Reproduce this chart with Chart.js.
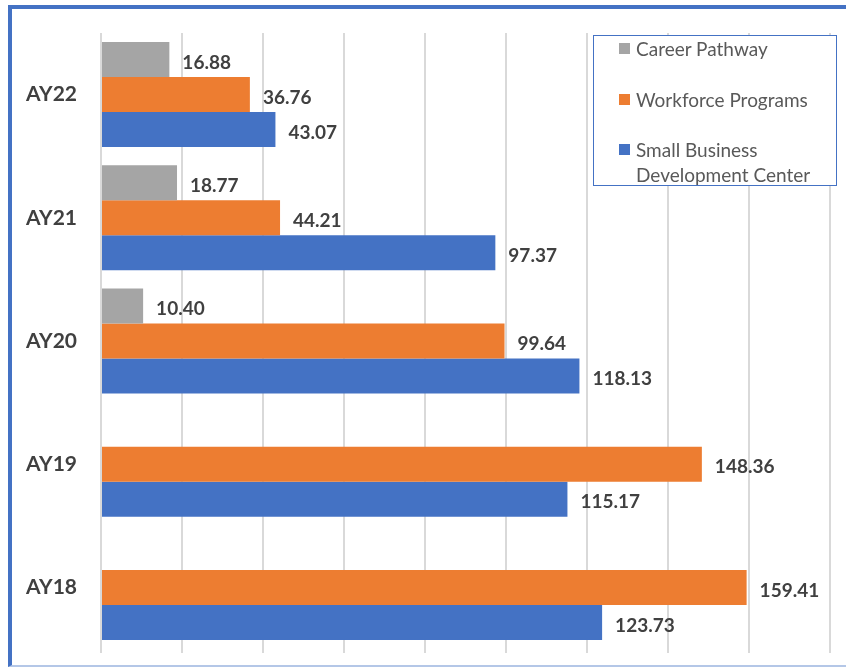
<!DOCTYPE html>
<html>
<head>
<meta charset="utf-8">
<script src="https://cdn.jsdelivr.net/npm/chart.js@4.4.1/dist/chart.umd.min.js"></script>
<style>
  html, body { margin:0; padding:0; background:#fff; overflow:hidden; }
  #wrap { position:relative; width:846px; height:672px; }
  #frame { position:absolute; left:8px; top:5px; width:900px; height:662px;
           border-left:4px solid #4472C4; border-top:4px solid #4472C4; border-bottom:2px solid #B4C7E7; box-sizing:border-box; pointer-events:none; }
  #legend { position:absolute; left:593px; top:35px; width:244px; height:151px; box-sizing:border-box;
            border:1.5px solid #4472C4; background:#fff; font-family:Lato, "Open Sans", sans-serif; font-size:19px; color:#595959; }
  .item { position:absolute; left:25px; line-height:25px; }
  .sw { position:absolute; left:0; top:7px; width:11px; height:11px; }
  .txt { position:absolute; left:17px; white-space:nowrap; }
  canvas { position:absolute; left:0; top:0; }
</style>
</head>
<body>
<div id="wrap">
  <canvas id="c" width="846" height="672"></canvas>
  <div id="frame"></div>
  <div id="legend"></div>
</div>
<script>
const categories = ["AY22", "AY21", "AY20", "AY19", "AY18"];
const careerPathway = [16.88, 18.77, 10.40, null, null];
const workforcePrograms = [36.76, 44.21, 99.64, 148.36, 159.41];
const smallBusiness = [43.07, 97.37, 118.13, 115.17, 123.73];
const seriesNames = ["Career Pathway", "Workforce Programs", ["Small Business", "Development Center"]];
const seriesColors = ["#A5A5A5", "#ED7D31", "#4472C4"];
const xMax = 180, xStep = 20;

const valueLabels = {
  id: 'valueLabels',
  afterDatasetsDraw(chart) {
    const ctx = chart.ctx;
    ctx.save();
    ctx.font = 'bold 19px Lato, "Open Sans", sans-serif';
    ctx.fillStyle = '#404040';
    ctx.textAlign = 'left';
    ctx.textBaseline = 'middle';
    chart.data.datasets.forEach((ds, di) => {
      const meta = chart.getDatasetMeta(di);
      meta.data.forEach((bar, i) => {
        const v = ds.data[i];
        if (v === null || v === undefined) return;
        ctx.fillText(v.toFixed(2), bar.x + 13, bar.y + 3);
      });
    });
    ctx.restore();
  }
};

new Chart(document.getElementById('c'), {
  type: 'bar',
  data: {
    labels: categories,
    datasets: [
      { label: "Career Pathway", data: careerPathway, backgroundColor: seriesColors[0] },
      { label: "Workforce Programs", data: workforcePrograms, backgroundColor: seriesColors[1] },
      { label: "Small Business Development Center", data: smallBusiness, backgroundColor: seriesColors[2] }
    ]
  },
  options: {
    indexAxis: 'y',
    responsive: false,
    animation: false,
    devicePixelRatio: 1,
    layout: { padding: { left: 0, right: 16, top: 33, bottom: 19 } },
    datasets: { bar: { barPercentage: 1.0, categoryPercentage: 0.852 } },
    plugins: { legend: { display: false }, tooltip: { enabled: false } },
    scales: {
      x: {
        min: 0, max: xMax,
        ticks: { display: false, stepSize: xStep },
        grid: { color: '#D9D9D9', lineWidth: 2, drawTicks: true, tickLength: 4 },
        border: { display: false }
      },
      y: {
        grid: { display: false, drawTicks: false },
        border: { display: false },
        ticks: { padding: 24, color: '#404040', font: { family: 'Lato, "Open Sans", sans-serif', size: 21, weight: 'bold' } },
        afterFit(scale) { scale.width = 101; scale.paddingTop = 0; scale.paddingBottom = 0; }
      }
    }
  },
  plugins: [valueLabels]
});

const legend = document.getElementById('legend');
const tops = [0, 51, 101];
seriesNames.forEach((name, i) => {
  const item = document.createElement('div');
  item.className = 'item';
  item.style.top = tops[i] + 'px';
  const sw = document.createElement('div');
  sw.className = 'sw';
  sw.style.background = seriesColors[i];
  const t = document.createElement('div');
  t.className = 'txt';
  t.innerHTML = (Array.isArray(name) ? name : [name]).join('<br>');
  item.appendChild(sw); item.appendChild(t);
  legend.appendChild(item);
});
</script>
</body>
</html>
